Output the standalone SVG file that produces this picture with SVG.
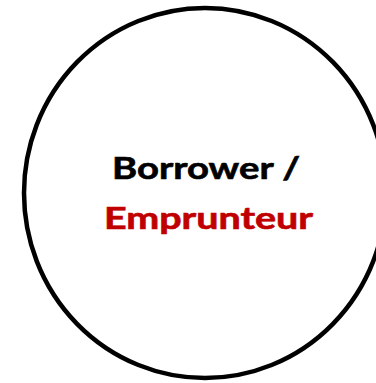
<svg xmlns="http://www.w3.org/2000/svg" width="376" height="383" viewBox="0 0 376 383">
<style>
.lbl{font-family:Lato,"Open Sans","Liberation Sans",sans-serif;font-weight:bold;font-size:29.5px;text-anchor:middle}
</style>
<rect width="376" height="383" fill="#ffffff"/>
<g id="borrower">
<ellipse cx="205" cy="193" rx="181" ry="185" fill="#ffffff" stroke="#000000" stroke-width="4.5"/>
<text class="lbl" x="206" y="178.5" fill="#000000" stroke="#000000" stroke-width="0.6" textLength="188" lengthAdjust="spacingAndGlyphs">Borrower /</text>
<text class="lbl" x="208.5" y="228.5" fill="#C00000" stroke="#C00000" stroke-width="0.6" textLength="209" lengthAdjust="spacingAndGlyphs">Emprunteur</text>
</g>
<g id="connectors"></g>
</svg>
